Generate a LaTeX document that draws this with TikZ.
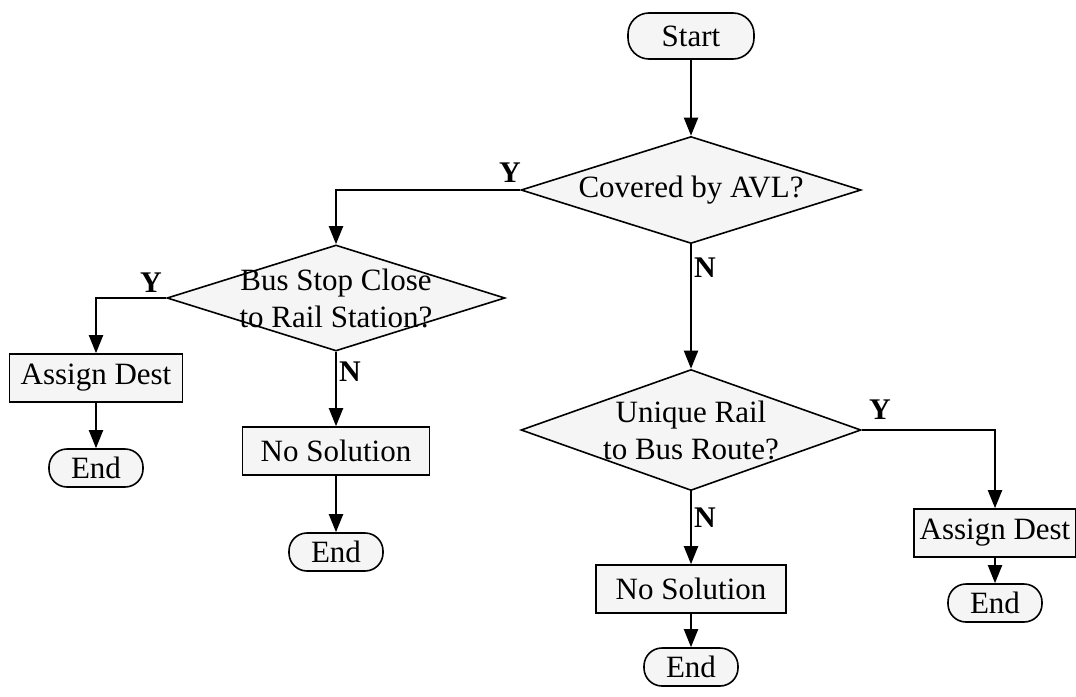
\documentclass[tikz,border=0pt]{standalone}
\usepackage{fontspec}
\setmainfont{Liberation Serif}
\usetikzlibrary{arrows.meta,shapes.geometric}
\definecolor{boxfill}{RGB}{245,245,245}

\begin{document}
\begin{tikzpicture}[x=1pt,y=-1pt,
  txt/.style={font=\fontsize{31}{37}\selectfont},
  shapeline/.style={draw=black, line width=1.6pt, fill=boxfill},
  procbox/.style={shapeline, txt, rectangle, minimum height=48pt, inner sep=0pt},
  decision/.style={shapeline, diamond, inner sep=0pt},
  terminal/.style={shapeline, txt, rectangle, rounded corners=18pt, minimum width=94pt, minimum height=38pt, inner sep=0pt},
  qtext/.style={txt, align=center, inner sep=0pt},
  flow/.style={draw=black, line width=2pt, -{Triangle[length=18pt,width=14pt]}},
  yn/.style={font=\fontsize{30}{30}\selectfont\bfseries, inner sep=0pt}]

\useasboundingbox (0,0) rectangle (1076,696);

% top of the chart
\node[terminal, minimum width=126pt, minimum height=46pt, rounded corners=21pt] (start) at (691,36) {Start};
\node[decision, minimum width=340pt, minimum height=107pt] (avl) at (691,190) {};
\node[qtext] (avlq) at (avl.center) {Covered by AVL?};

% left branch
\node[decision, minimum width=338pt, minimum height=106pt] (stop) at (336,298) {};
\node[qtext] (stopq) at (stop.center) {Bus Stop Close\\to Rail Station?};
\node[procbox, minimum width=173pt] (assignL) at (96,378) {Assign Dest};
\node[terminal] (endA) at (96,468) {End};
\node[procbox, minimum width=187pt] (noneL) at (336,451) {No Solution};
\node[terminal] (endB) at (336,552) {End};

% right branch
\node[decision, minimum width=340pt, minimum height=121pt] (route) at (691,430) {};
\node[qtext] (routeq) at (route.center) {Unique Rail\\to Bus Route?};
\node[procbox, minimum width=162pt] (assignR) at (995,533) {Assign Dest};
\node[terminal] (endC) at (995,603) {End};
\node[procbox, minimum width=190pt] (noneR) at (691,589) {No Solution};
\node[terminal] (endD) at (691,667) {End};

% connectors
\draw[flow] (start.south) -- (avl.north);
\draw[flow] (avl.west) -| (stop.north);
\draw[flow] (avl.south) -- (route.north);
\draw[flow] (stop.west) -| (assignL.north);
\draw[flow] (stop.south) -- (noneL.north);
\draw[flow] (assignL.south) -- (endA.north);
\draw[flow] (noneL.south) -- (endB.north);
\draw[flow] (route.east) -| (assignR.north);
\draw[flow] (route.south) -- (noneR.north);
\draw[flow] (assignR.south) -- (endC.north);
\draw[flow] (noneR.south) -- (endD.north);

% branch labels
\node[yn] (y1) at (510,173) {Y};
\node[yn] (n1) at (705,268) {N};
\node[yn] (y2) at (151,283) {Y};
\node[yn] (n2) at (350,372) {N};
\node[yn] (y3) at (880,410) {Y};
\node[yn] (n3) at (705,518) {N};
\end{tikzpicture}
\end{document}
